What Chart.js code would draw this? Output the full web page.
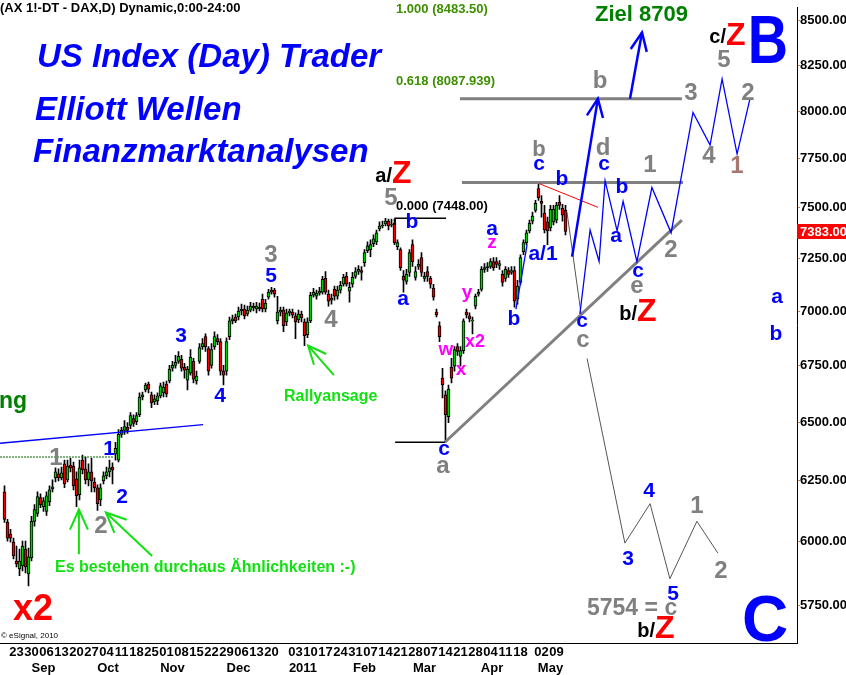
<!DOCTYPE html>
<html>
<head>
<meta charset="utf-8">
<script src="https://cdn.jsdelivr.net/npm/chart.js@4.4.1/dist/chart.umd.min.js"></script>
<style>
  html, body { margin: 0; padding: 0; background: #fff; }
  canvas { display: block; }
</style>
</head>
<body>
<canvas id="chart" width="846" height="675"></canvas>
<script>
// FDAX daily candles, mid Aug 2010 - mid May 2011
const opens = [
  6204, 6079, 6031, 5999, 5924, 5893, 5904, 5971, 5873, 5936,
  6083, 6115, 6180, 6143, 6123, 6163, 6216, 6262, 6279, 6262,
  6321, 6254, 6316, 6312, 6258, 6192, 6337, 6300, 6254, 6287,
  6245, 6221, 6171, 6249, 6271, 6287, 6308, 6362, 6337, 6447,
  6464, 6477, 6485, 6515, 6502, 6532, 6610, 6641, 6667, 6619,
  6588, 6593, 6615, 6628, 6667, 6681, 6738, 6751, 6769, 6778,
  6742, 6685, 6716, 6769, 6681, 6769, 6836, 6882, 6827, 6751,
  6836, 6873, 6859, 6725, 6725, 6882, 6955, 6973, 6973, 7001,
  7010, 6987, 7005, 7024, 7010, 7019, 7056, 7010, 7066, 7089,
  7099, 6955, 6996, 7005, 6950, 6992, 6996, 6978, 6959, 6987,
  6950, 6891, 6955, 7075, 7070, 7085, 7089, 7155, 7080, 7052,
  7103, 7070, 7099, 7127, 7165, 7094, 7127, 7165, 7188, 7193,
  7231, 7289, 7294, 7323, 7332, 7395, 7410, 7420, 7434, 7415,
  7425, 7308, 7294, 7165, 7141, 7184, 7318, 7160, 7212, 7255,
  7155, 7188, 7155, 7108, 6996, 6932, 6694, 6619, 6524, 6742,
  6747, 6836, 6792, 6818, 6996, 6978, 6955, 7024, 7080, 7103,
  7198, 7207, 7212, 7236, 7236, 7217, 7174, 7155, 7193, 7184,
  7193, 7056, 7136, 7284, 7328, 7386, 7434, 7488, 7597, 7533,
  7474, 7430, 7400, 7430, 7439, 7528, 7498, 7488
];
const highs = [
  6229, 6091, 6051, 6015, 5983, 5971, 6003, 6003, 5975, 6103,
  6151, 6204, 6196, 6180, 6204, 6229, 6254, 6304, 6300, 6308,
  6337, 6337, 6345, 6329, 6287, 6337, 6358, 6350, 6321, 6345,
  6262, 6233, 6237, 6287, 6308, 6337, 6325, 6413, 6468, 6477,
  6507, 6498, 6541, 6532, 6541, 6628, 6632, 6672, 6676, 6632,
  6619, 6628, 6672, 6676, 6681, 6751, 6769, 6796, 6814, 6796,
  6760, 6747, 6823, 6783, 6725, 6850, 6873, 6895, 6836, 6850,
  6904, 6891, 6873, 6751, 6877, 6973, 6982, 6987, 7019, 7033,
  7028, 7024, 7042, 7038, 7042, 7038, 7080, 7056, 7103, 7113,
  7108, 7070, 7019, 7019, 7010, 7010, 7010, 6992, 7005, 7001,
  6964, 6969, 7089, 7108, 7099, 7113, 7165, 7188, 7099, 7080,
  7118, 7118, 7141, 7174, 7184, 7136, 7184, 7207, 7217, 7212,
  7294, 7332, 7342, 7366, 7390, 7430, 7434, 7448, 7444, 7444,
  7444, 7342, 7303, 7193, 7198, 7294, 7342, 7212, 7245, 7279,
  7184, 7212, 7165, 7127, 7010, 6950, 6738, 6637, 6663, 6783,
  6836, 6850, 6836, 6964, 7010, 6992, 6973, 7080, 7103, 7212,
  7226, 7231, 7250, 7255, 7255, 7241, 7193, 7212, 7207, 7212,
  7212, 7146, 7269, 7342, 7390, 7439, 7479, 7538, 7623, 7562,
  7513, 7454, 7513, 7513, 7528, 7562, 7518, 7513
];
const lows = [
  6079, 6003, 5999, 5932, 5900, 5866, 5885, 5877, 5826, 5924,
  6063, 6103, 6139, 6123, 6107, 6147, 6204, 6245, 6249, 6254,
  6221, 6245, 6287, 6212, 6143, 6171, 6279, 6237, 6229, 6204,
  6204, 6127, 6147, 6237, 6258, 6266, 6237, 6337, 6329, 6434,
  6447, 6451, 6472, 6481, 6489, 6524, 6597, 6632, 6628, 6563,
  6576, 6576, 6606, 6610, 6610, 6672, 6725, 6738, 6760, 6725,
  6694, 6641, 6707, 6672, 6667, 6760, 6823, 6814, 6707, 6738,
  6823, 6845, 6707, 6663, 6707, 6868, 6941, 6946, 6959, 6982,
  6964, 6978, 6996, 7001, 6992, 7001, 6996, 6996, 7056, 7080,
  7066, 6941, 6978, 6905, 6932, 6978, 6969, 6873, 6946, 6950,
  6841, 6877, 6946, 7066, 7056, 7075, 7080, 7080, 7024, 7033,
  7052, 7056, 7085, 7118, 7118, 7042, 7113, 7155, 7174, 7146,
  7212, 7279, 7260, 7308, 7318, 7386, 7400, 7410, 7390, 7405,
  7318, 7294, 7193, 7089, 7127, 7165, 7212, 7146, 7198, 7165,
  7141, 7141, 7108, 7052, 6973, 6859, 6606, 6413, 6498, 6672,
  6725, 6796, 6747, 6805, 6969, 6950, 6895, 7010, 7070, 7094,
  7184, 7188, 7203, 7193, 7207, 7198, 7118, 7141, 7160, 7174,
  7019, 7033, 7127, 7269, 7318, 7376, 7420, 7479, 7538, 7454,
  7376, 7318, 7386, 7415, 7425, 7493, 7434, 7366
];
const closes = [
  6091, 6015, 6015, 5944, 5912, 5924, 5983, 5900, 5940, 6083,
  6131, 6184, 6151, 6167, 6188, 6212, 6225, 6287, 6262, 6283,
  6237, 6312, 6304, 6229, 6188, 6304, 6296, 6254, 6287, 6249,
  6221, 6155, 6221, 6271, 6287, 6304, 6296, 6387, 6447, 6464,
  6481, 6464, 6528, 6494, 6528, 6610, 6619, 6663, 6645, 6584,
  6602, 6615, 6659, 6654, 6623, 6734, 6751, 6765, 6792, 6738,
  6729, 6734, 6787, 6689, 6703, 6832, 6850, 6836, 6725, 6823,
  6882, 6859, 6725, 6707, 6859, 6955, 6964, 6955, 7001, 7010,
  6978, 7005, 7024, 7015, 7024, 7010, 7010, 7038, 7089, 7099,
  7080, 6996, 7005, 6932, 6992, 7001, 6982, 6950, 6987, 6969,
  6886, 6950, 7075, 7089, 7085, 7094, 7150, 7089, 7047, 7061,
  7070, 7099, 7122, 7160, 7127, 7113, 7160, 7188, 7198, 7184,
  7279, 7313, 7318, 7347, 7376, 7410, 7415, 7434, 7410, 7420,
  7328, 7328, 7207, 7146, 7174, 7279, 7236, 7188, 7222, 7184,
  7165, 7165, 7127, 7066, 6982, 6882, 6663, 6532, 6645, 6694,
  6823, 6814, 6818, 6955, 6982, 6964, 6959, 7070, 7089, 7198,
  7207, 7212, 7236, 7207, 7222, 7226, 7136, 7198, 7174, 7193,
  7047, 7118, 7255, 7328, 7376, 7425, 7459, 7523, 7552, 7523,
  7390, 7386, 7493, 7493, 7513, 7513, 7464, 7383
];
const lastPrice = 7383;

// axis ticks
const yTicks = [5750, 6000, 6250, 6500, 6750, 7000, 7250, 7500, 7750, 8000, 8250, 8500];
const dayIdx = [4, 9, 14, 19, 24, 29, 34, 39, 44, 49, 54, 59, 64, 69, 74, 79, 84, 89,
  97, 102, 107, 112, 117, 122, 127, 132, 137, 142, 147, 152, 157, 162, 167, 172, 179, 184];
const dayLabels = ['23', '30', '06', '13', '20', '27', '04', '11', '18', '25', '01', '08', '15', '22', '29', '06', '13', '20',
  '03', '10', '17', '24', '31', '07', '14', '21', '28', '07', '14', '21', '28', '04', '11', '18', '02', '09'];
const monthIdx = [13, 34.5, 56, 78, 99.5, 120, 140, 162.5, 182];
const monthLabels = ['Sep', 'Oct', 'Nov', 'Dec', '2011', 'Feb', 'Mar', 'Apr', 'May'];

// drawn lines: [bar index, price]
const supportBlue = [[-1.5, 6409], [66.2, 6489]];
const neckGreen = [[-1.5, 6350], [36.2, 6350]];
const fib618 = [[151.8, 8068], [225.8, 8068]];
const topLine = [[152.5, 7628], [226.2, 7628]];
const riseLine = [[146.8, 6413], [225.8, 7439]];
const lowLine = [[130.2, 6413], [146.8, 6413]];
const fib0 = [[130.2, 7415], [130.2, 7448], [147.2, 7448]];
const redLine = [[178.2, 7623], [197.8, 7503]];
const bLine = [[170.5, 7010], [174.2, 7318]];
const arrowUp1 = [[189.2, 7260], [197.8, 8068]];
const arrowUp2 = [[208.5, 8068], [212.5, 8433]];
const grayDrop = [[187.5, 7479], [192.2, 6987]];
const grayWaves = [[194.2, 6782], [206.8, 5995], [215.2, 6155], [221.8, 5854], [230.8, 6083], [237.8, 5955]];
const blueWaves = [[191.8, 6987], [195.2, 7390], [198.2, 7236], [200.2, 7638], [204.2, 7386], [206.2, 7533],
  [210.8, 7236], [215.8, 7603], [222.2, 7376], [229.5, 7994], [235.2, 7822], [239.2, 8175], [244.2, 7775], [248.5, 8068]];
const arrowA = [[24.8, 5951], [24.8, 6131]];
const arrowB = [[49.2, 5944], [33.8, 6119]];
const arrowR = [[109.8, 6707], [101.2, 6841]];

const FONT = "'Liberation Sans', Arial, sans-serif";
const BLUE = '#0000ff', GRAY = '#808080', MAG = '#ff00ff', LIME = '#11e011', RED = '#ff0000';

// text overlays: [text, x, baseline y, font, color, align, xscale]
const notes = [
  ['(AX 1!-DT - DAX,D) Dynamic,0:00-24:00', 0, 12, 'bold 13px', '#000', 'left'],
  ['US Index (Day) Trader', 37, 67, 'italic bold 33px', BLUE, 'left'],
  ['Elliott Wellen', 35, 120, 'italic bold 33px', BLUE, 'left'],
  ['Finanzmarktanalysen', 33, 162, 'italic bold 33px', BLUE, 'left'],
  ['1.000 (8483.50)', 396, 13, 'bold 13px', '#3d8f00', 'left'],
  ['0.618 (8087.939)', 396, 85, 'bold 13px', '#3d8f00', 'left'],
  ['Ziel 8709', 595, 21, 'bold 22px', '#008000', 'left'],
  ['c/', 726, 43, 'bold 20px', '#000', 'right'],
  ['Z', 726, 45, 'bold 32px', RED, 'left'],
  ['B', 768, 63, 'bold 68px', BLUE, 'center', 0.82],
  ['a/', 392, 182, 'bold 20px', '#000', 'right'],
  ['Z', 392, 183, 'bold 32px', RED, 'left'],
  ['b/', 637, 320, 'bold 20px', '#000', 'right'],
  ['Z', 637, 321, 'bold 32px', RED, 'left'],
  ['b/', 655, 637, 'bold 20px', '#000', 'right'],
  ['Z', 655, 638, 'bold 32px', RED, 'left'],
  ['C', 765, 641, 'bold 64px', BLUE, 'center'],
  ['0.000 (7448.00)', 396, 210, 'bold 13px', '#000', 'left'],
  ['ng', -1, 408, 'bold 23px', '#008000', 'left'],
  ['Es bestehen durchaus Ähnlichkeiten :-)', 55, 572, 'bold 16px', LIME, 'left'],
  ['Rallyansage', 284, 401, 'bold 16px', LIME, 'left'],
  ['x2', 13, 620, 'bold 36px', RED, 'left'],
  ['\u00a9 eSignal, 2010', 1, 638, '8px', '#000', 'left'],
  ['5754 = c', 587, 615, 'bold 23px', GRAY, 'left'],
  // gray wave counts
  ['1', 56, 465, 'bold 24px', GRAY, 'center'],
  ['2', 101, 533, 'bold 24px', GRAY, 'center'],
  ['3', 271, 262, 'bold 24px', GRAY, 'center'],
  ['4', 331, 327, 'bold 24px', GRAY, 'center'],
  ['5', 391, 205, 'bold 24px', GRAY, 'center'],
  ['a', 443, 473, 'bold 24px', GRAY, 'center'],
  ['b', 539, 156, 'bold 22px', GRAY, 'center'],
  ['b', 600, 88, 'bold 24px', GRAY, 'center'],
  ['d', 603, 155, 'bold 24px', GRAY, 'center'],
  ['1', 650, 172, 'bold 24px', GRAY, 'center'],
  ['e', 637, 293, 'bold 24px', GRAY, 'center'],
  ['2', 671, 257, 'bold 24px', GRAY, 'center'],
  ['3', 691, 100, 'bold 24px', GRAY, 'center'],
  ['5', 724, 67, 'bold 24px', GRAY, 'center'],
  ['2', 748, 100, 'bold 24px', GRAY, 'center'],
  ['4', 709, 163, 'bold 24px', GRAY, 'center'],
  ['1', 737, 173, 'bold 24px', '#a87670', 'center'],
  ['c', 583, 347, 'bold 24px', GRAY, 'center'],
  ['1', 697, 513, 'bold 24px', GRAY, 'center'],
  ['2', 721, 578, 'bold 24px', GRAY, 'center'],
  // blue wave counts
  ['1', 109, 455, 'bold 21px', BLUE, 'center'],
  ['2', 122, 503, 'bold 21px', BLUE, 'center'],
  ['3', 181, 342, 'bold 21px', BLUE, 'center'],
  ['4', 220, 402, 'bold 21px', BLUE, 'center'],
  ['5', 271, 282, 'bold 21px', BLUE, 'center'],
  ['b', 412, 228, 'bold 21px', BLUE, 'center'],
  ['a', 403, 305, 'bold 21px', BLUE, 'center'],
  ['c', 444, 455, 'bold 21px', BLUE, 'center'],
  ['a', 492, 235, 'bold 21px', BLUE, 'center'],
  ['b', 514, 325, 'bold 21px', BLUE, 'center'],
  ['a/1', 543, 260, 'bold 21px', BLUE, 'center'],
  ['c', 539, 170, 'bold 21px', BLUE, 'center'],
  ['b', 562, 185, 'bold 21px', BLUE, 'center'],
  ['c', 604, 170, 'bold 21px', BLUE, 'center'],
  ['b', 622, 193, 'bold 21px', BLUE, 'center'],
  ['a', 616, 242, 'bold 21px', BLUE, 'center'],
  ['c', 638, 277, 'bold 21px', BLUE, 'center'],
  ['c', 582, 327, 'bold 21px', BLUE, 'center'],
  ['a', 777, 303, 'bold 21px', BLUE, 'center'],
  ['b', 776, 340, 'bold 21px', BLUE, 'center'],
  ['3', 628, 565, 'bold 21px', BLUE, 'center'],
  ['4', 649, 497, 'bold 21px', BLUE, 'center'],
  ['5', 673, 600, 'bold 21px', BLUE, 'center'],
  // magenta sub-waves
  ['w', 446, 355, 'bold 19px', MAG, 'center'],
  ['x', 461, 375, 'bold 19px', MAG, 'center'],
  ['x2', 475, 347, 'bold 18px', MAG, 'center'],
  ['y', 467, 298, 'bold 19px', MAG, 'center'],
  ['z', 492, 248, 'bold 19px', MAG, 'center']
];

const pts = a => a.map(([x, y]) => ({x, y}));
function line(data, color, width, extra) {
  return Object.assign({
    type: 'line', data: pts(data), borderColor: color, borderWidth: width,
    pointRadius: 0, fill: false, tension: 0
  }, extra || {});
}

const lineSets = [
  line(arrowUp1, BLUE, 2.5, {arrow: 20}),
  line(arrowUp2, BLUE, 2.5, {arrow: 20}),
  line(arrowA, LIME, 2, {arrow: 22}),
  line(arrowB, LIME, 2, {arrow: 22}),
  line(arrowR, LIME, 2, {arrow: 20}),
  line(blueWaves, BLUE, 1.3),
  line(grayDrop, '#555', 1),
  line(grayWaves, '#555', 1),
  line(redLine, RED, 1),
  line(bLine, BLUE, 1.3),
  line(fib0, '#000', 1.5),
  line(lowLine, '#000', 1.5),
  line(fib618, GRAY, 3),
  line(topLine, GRAY, 3),
  line(riseLine, GRAY, 3),
  line(supportBlue, BLUE, 1.5),
  line(neckGreen, '#006400', 1, {borderDash: [2, 1]})
];

const bodies = closes.map((c, i) => ({x: i, y: [opens[i], c]}));
const wicks = highs.map((h, i) => ({x: i, y: [lows[i], h]}));
const bodyColors = closes.map((c, i) => c >= opens[i] ? '#00cc00' : '#ee0000');

const xMin = -1.5, xMax = 264.17;

const overlay = {
  id: 'overlay',
  afterDatasetsDraw(chart) {
    const ctx = chart.ctx;
    chart.data.datasets.forEach(ds => {
      if (!ds.arrow) return;
      const n = ds.data.length;
      const a = ds.data[n - 2], b = ds.data[n - 1];
      const x1 = chart.scales.x.getPixelForValue(a.x), y1 = chart.scales.y.getPixelForValue(a.y);
      const x2 = chart.scales.x.getPixelForValue(b.x), y2 = chart.scales.y.getPixelForValue(b.y);
      const ang = Math.atan2(y2 - y1, x2 - x1), sp = 0.42, len = ds.arrow;
      ctx.save();
      ctx.strokeStyle = ds.borderColor;
      ctx.lineWidth = ds.borderWidth;
      ctx.beginPath();
      ctx.moveTo(x2 - len * Math.cos(ang - sp), y2 - len * Math.sin(ang - sp));
      ctx.lineTo(x2, y2);
      ctx.lineTo(x2 - len * Math.cos(ang + sp), y2 - len * Math.sin(ang + sp));
      ctx.stroke();
      ctx.restore();
    });
  },
  afterDraw(chart) {
    const ctx = chart.ctx;
    ctx.save();
    notes.forEach(([t, x, y, f, c, al, sx]) => {
      ctx.font = f + ' ' + FONT;
      ctx.fillStyle = c;
      ctx.textAlign = al;
      ctx.textBaseline = 'alphabetic';
      if (sx) {
        ctx.save();
        ctx.translate(x, y);
        ctx.scale(sx, 1);
        ctx.fillText(t, 0, 0);
        ctx.restore();
      } else {
        ctx.fillText(t, x, y);
      }
    });
    // last price marker on the price axis
    const yp = Math.round(chart.scales.y.getPixelForValue(lastPrice));
    const ax = chart.chartArea.right;
    ctx.fillStyle = '#ff0000';
    ctx.fillRect(ax, yp - 7, 846 - ax, 15);
    ctx.fillStyle = '#fff';
    ctx.font = 'bold 13px ' + FONT;
    ctx.textAlign = 'left';
    ctx.textBaseline = 'middle';
    ctx.fillText(lastPrice.toFixed(2), ax + 3, yp + 1);
    ctx.restore();
  }
};

const tickFont = {family: FONT, size: 13, weight: 'bold'};

new Chart(document.getElementById('chart'), {
  type: 'bar',
  data: {
    datasets: [
      ...lineSets,
      {type: 'bar', data: bodies, backgroundColor: bodyColors, borderColor: '#000', borderWidth: 1,
        borderSkipped: false, barThickness: 3, grouped: false},
      {type: 'bar', data: wicks, backgroundColor: '#000', borderWidth: 0, barThickness: 1, grouped: false}
    ]
  },
  options: {
    responsive: false,
    devicePixelRatio: 1,
    animation: false,
    layout: {padding: 0},
    plugins: {legend: {display: false}, tooltip: {enabled: false}},
    scales: {
      x: {
        type: 'linear', position: 'bottom', min: xMin, max: xMax, bounds: 'data', offset: false,
        grid: {display: false, drawTicks: false, offset: false},
        border: {display: true, color: '#000', width: 1},
        afterBuildTicks: s => { s.ticks = dayIdx.map(v => ({value: v})); },
        afterFit: s => { s.height = 18; },
        ticks: {autoSkip: false, maxRotation: 0, minRotation: 0, padding: 2, color: '#000', font: tickFont,
          callback: (v, k) => dayLabels[k]}
      },
      x2: {
        type: 'linear', position: 'bottom', min: xMin, max: xMax, bounds: 'data', offset: false,
        grid: {display: false, drawTicks: false},
        border: {display: false},
        afterBuildTicks: s => { s.ticks = monthIdx.map(v => ({value: v})); },
        afterFit: s => { s.height = 14; },
        ticks: {autoSkip: false, maxRotation: 0, minRotation: 0, padding: 0, color: '#000', font: tickFont,
          callback: (v, k) => monthLabels[k]}
      },
      y: {
        type: 'logarithmic', position: 'right', min: 5608, max: 8573, bounds: 'data',
        grid: {drawOnChartArea: false, drawTicks: true, tickLength: 3, color: '#d08030'},
        border: {display: true, color: '#000', width: 1},
        afterBuildTicks: s => { s.ticks = yTicks.map(v => ({value: v})); },
        afterFit: s => { s.width = 49; },
        ticks: {autoSkip: false, padding: 0, color: '#000', font: tickFont,
          callback: v => Number(v).toFixed(2)}
      }
    }
  },
  plugins: [overlay]
});
</script>
</body>
</html>
